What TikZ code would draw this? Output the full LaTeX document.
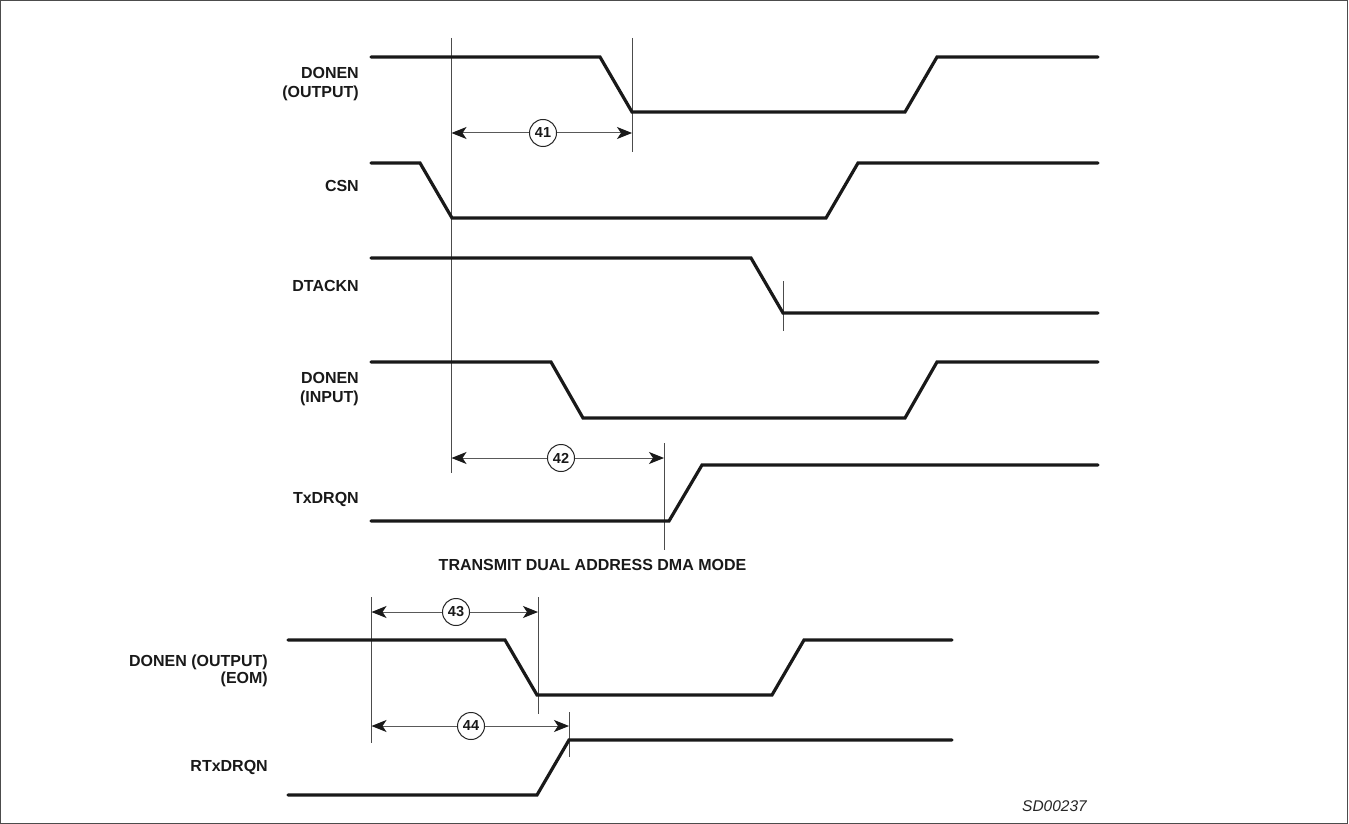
\documentclass[tikz,border=0pt]{standalone}
\usepackage{fontspec}
\setmainfont{Liberation Sans}
\usetikzlibrary{arrows.meta}
\tikzset{
 x=1pt,y=-1pt,
 wave/.style={line width=3.2pt,line join=miter,line cap=round,color=black!90},
 tick/.style={line width=1pt,color=black!70},
 dim/.style={line width=1pt,color=black!65,{Stealth[length=15pt,width=12pt,inset=4pt,black!90]}-{Stealth[length=15pt,width=12pt,inset=4pt,black!90]}},
 sig/.style={font=\bfseries\fontsize{16}{19}\selectfont,align=right,anchor=east,text=black!90,inner sep=0pt},
 num/.style={circle,draw=black!85,line width=1pt,fill=white,minimum size=27pt,inner sep=0pt,font=\bfseries\fontsize{14.5}{16}\selectfont,text=black!90},
}
\begin{document}
\begin{tikzpicture}
\useasboundingbox (0,0) rectangle (1349,824);
\draw[line width=1.4pt,color=black!70] (0.7,0.7) rectangle (1347.3,823.3);
% vertical timing references
\foreach \n/\x/\a/\b in {a/451.5/38/473, b/632/38/152, c/783/281/331, d/664/443/550, e/371.5/597/743, f/538/597/714, g/569/712/757}{
  \coordinate (\n t) at (\x,\a); \coordinate (\n b) at (\x,\b);
  \draw[tick] (\n t) -- (\n b);
}
% waveforms
\draw[wave] (371,57) -- (600,57) -- (632,112) -- (905,112) -- (937,57) -- (1098,57);
\draw[wave] (371,163) -- (420,163) -- (452,218) -- (826,218) -- (858,163) -- (1098,163);
\draw[wave] (371,258) -- (751,258) -- (783,313) -- (1098,313);
\draw[wave] (371,362) -- (551,362) -- (583,418) -- (905,418) -- (937,362) -- (1098,362);
\draw[wave] (371,521) -- (669,521) -- (702,465) -- (1098,465);
\draw[wave] (288,640) -- (505,640) -- (537,695) -- (772,695) -- (804,640) -- (952,640);
\draw[wave] (288,795) -- (537,795) -- (569,740) -- (952,740);
% dimension arrows
\coordinate (a41) at (451.5,133); \coordinate (b41) at (632,133);
\coordinate (a42) at (451.5,458); \coordinate (b42) at (664,458);
\coordinate (a43) at (371.5,612); \coordinate (b43) at (538,612);
\coordinate (a44) at (371.5,726); \coordinate (b44) at (569,726);
\draw[dim] (a41) -- (b41);
\draw[dim] (a42) -- (b42);
\draw[dim] (a43) -- (b43);
\draw[dim] (a44) -- (b44);
\node[num] (n41) at (543,133) {41};
\node[num] (n42) at (561,458) {42};
\node[num] (n43) at (456,612) {43};
\node[num] (n44) at (471,726) {44};
% labels
\node[sig] (l1) at (359,84.5) {DONEN\\(OUTPUT)};
\node[sig] (l2) at (359,186) {CSN};
\node[sig] (l3) at (359,286) {DTACKN};
\node[sig] (l4) at (359,389.5) {DONEN\\(INPUT)};
\node[sig] (l5) at (359,499) {TxDRQN};
\node[sig,font=\bfseries\fontsize{16}{17}\selectfont] (l6) at (268,671) {DONEN (OUTPUT)\\(EOM)};
\node[sig] (l7) at (268,767) {RTxDRQN};
\node[font=\bfseries\fontsize{16}{19}\selectfont,text=black!90,inner sep=0pt] (title) at (592.5,565) {TRANSMIT DUAL ADDRESS DMA MODE};
\node[font=\itshape\fontsize{15.5}{18}\selectfont,text=black!85,inner sep=0pt,anchor=west] (code) at (1022,806) {SD00237};
\end{tikzpicture}
\end{document}
